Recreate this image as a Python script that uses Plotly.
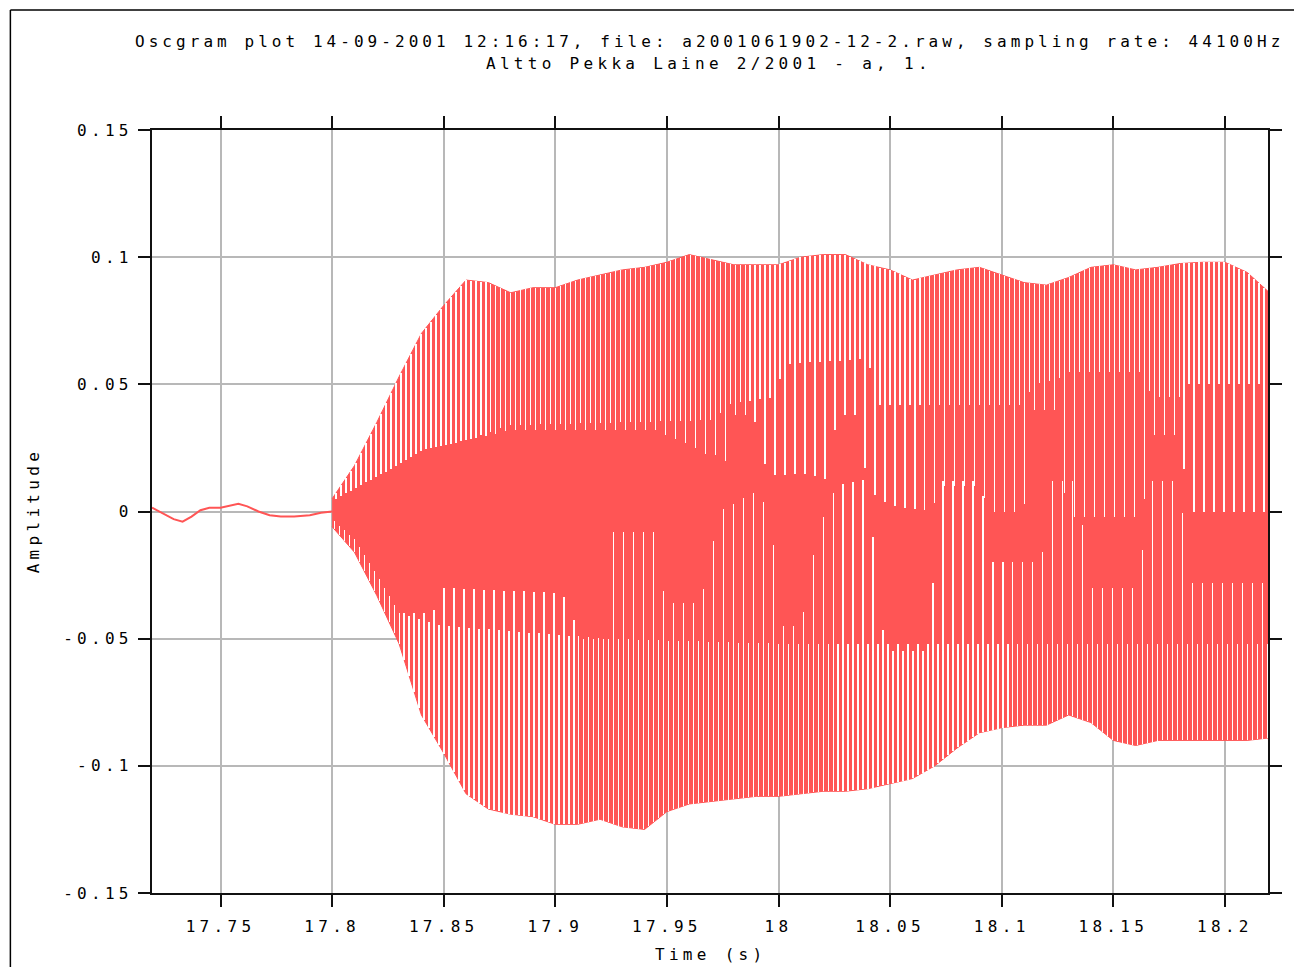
import numpy as np
import plotly.graph_objects as go

# ---------------- data ----------------
# low-level signal before the onset (time s, amplitude)
pre_t = [17.7193, 17.725, 17.729, 17.733, 17.737, 17.741, 17.745, 17.750, 17.755, 17.758,
         17.762, 17.767, 17.772, 17.777, 17.783, 17.790, 17.795, 17.800]
pre_a = [0.0015, -0.001, -0.003, -0.004, -0.002, 0.0005, 0.0015, 0.0015, 0.0025, 0.003,
         0.002, 0.0, -0.0015, -0.002, -0.002, -0.0015, -0.0005, 0.0]

# outer envelope of the voiced part
env_t = [17.80, 17.81, 17.82, 17.83, 17.84, 17.85, 17.86, 17.87, 17.88, 17.89,
         17.90, 17.91, 17.92, 17.93, 17.94, 17.95, 17.96, 17.97, 17.98, 17.99,
         18.00, 18.01, 18.02, 18.03, 18.04, 18.05, 18.06, 18.07, 18.08, 18.09,
         18.10, 18.11, 18.12, 18.13, 18.14, 18.15, 18.16, 18.17, 18.18, 18.19,
         18.20, 18.21, 18.22]
env_top = [0.005, 0.018, 0.035, 0.053, 0.070, 0.081, 0.091, 0.090, 0.086, 0.088,
           0.088, 0.091, 0.093, 0.095, 0.096, 0.098, 0.101, 0.099, 0.097, 0.097,
           0.097, 0.100, 0.101, 0.101, 0.097, 0.095, 0.091, 0.093, 0.095, 0.096,
           0.093, 0.090, 0.089, 0.092, 0.096, 0.097, 0.095, 0.096, 0.0975, 0.098,
           0.098, 0.094, 0.086]
env_bot = [-0.006, -0.016, -0.033, -0.052, -0.080, -0.095, -0.111, -0.117, -0.119, -0.120,
           -0.123, -0.123, -0.121, -0.124, -0.125, -0.118, -0.115, -0.114, -0.113, -0.112,
           -0.112, -0.111, -0.110, -0.110, -0.109, -0.107, -0.105, -0.100, -0.093, -0.087,
           -0.085, -0.084, -0.084, -0.080, -0.083, -0.090, -0.092, -0.090, -0.090, -0.090,
           -0.090, -0.090, -0.089]

# level reached by the white gaps between pulses (breakpoint time, level)
# upper gaps: long ones (every other pulse) and short ones
up_long_t = [17.800, 17.812, 17.825, 17.840, 17.860, 17.880, 17.945, 17.955, 17.963, 17.967,
             17.971, 17.976, 17.979, 17.989, 17.992, 17.996, 18.000, 18.010, 18.018, 18.023,
             18.026, 18.036, 18.039, 18.044, 18.053, 18.069, 18.072, 18.091, 18.094, 18.110,
             18.113, 18.125, 18.129, 18.163, 18.167, 18.180, 18.184, 18.220]
up_long_v = [0.004, 0.010, 0.016, 0.024, 0.028, 0.032, 0.032, 0.028, 0.025, 0.0227,
             0.0225, 0.019, 0.038, 0.038, 0.0225, 0.015, 0.014, 0.015, 0.0137, 0.012,
             0.038, 0.038, 0.015, 0.005, 0.002, 0.0, 0.010, 0.010, 0.0, 0.0,
             0.040, 0.040, -0.002, -0.002, 0.030, 0.030, 0.0, 0.0]
up_short_t = [17.800, 17.812, 17.825, 17.840, 17.860, 17.880, 17.972, 17.976, 17.998, 18.003,
              18.040, 18.045, 18.110, 18.114, 18.125, 18.130, 18.163, 18.167, 18.180, 18.184,
              18.220]
up_short_v = [0.004, 0.010, 0.016, 0.024, 0.028, 0.034, 0.036, 0.042, 0.045, 0.058,
              0.060, 0.042, 0.042, 0.050, 0.052, 0.055, 0.055, 0.045, 0.045, 0.050,
              0.050]
# lower gaps: long ones and short ones
lo_long_t = [17.800, 17.810, 17.820, 17.830, 17.845, 17.850, 17.900, 17.905, 17.911, 17.922,
             17.925, 17.946, 17.949, 17.962, 17.966, 17.971, 17.975, 17.984, 17.989, 17.993,
             17.998, 18.002, 18.010, 18.013, 18.017, 18.022, 18.026, 18.040, 18.044, 18.048,
             18.068, 18.071, 18.091, 18.094, 18.118, 18.121, 18.135, 18.138, 18.162, 18.165,
             18.180, 18.183, 18.220]
lo_long_v = [-0.003, -0.011, -0.025, -0.040, -0.040, -0.030, -0.032, -0.034, -0.050, -0.050,
             -0.008, -0.008, -0.036, -0.036, -0.032, -0.011, 0.001, 0.005, 0.0074, 0.0045,
             -0.0145, -0.045, -0.045, -0.030, -0.010, 0.003, 0.010, 0.013, -0.026, -0.055,
             -0.055, 0.012, 0.012, -0.020, -0.020, 0.012, 0.012, -0.030, -0.030, 0.012,
             0.012, -0.028, -0.028]
lo_short_t = [17.800, 17.810, 17.820, 17.830, 17.850, 17.923, 18.000, 18.220]
lo_short_v = [-0.003, -0.011, -0.025, -0.040, -0.045, -0.050, -0.052, -0.052]

pitch_period = 0.00447   # spacing of the big pulses (s)
first_pulse = 17.8018    # time of the first long gap (s)
lower_shift = -0.0008    # lower gaps sit slightly before the upper ones (s)

x_tickvals = [17.75, 17.8, 17.85, 17.9, 17.95, 18.0, 18.05, 18.1, 18.15, 18.2]
x_ticktext = ["17.75", "17.8", "17.85", "17.9", "17.95", "18", "18.05", "18.1", "18.15", "18.2"]
y_tickvals = [-0.15, -0.1, -0.05, 0, 0.05, 0.1, 0.15]
y_ticktext = ["-0.15", "-0.1", "-0.05", "0", "0.05", "0.1", "0.15"]

title_1 = "Oscgram plot 14-09-2001 12:16:17, file: a2001061902-12-2.raw, sampling rate: 44100Hz"
title_2 = "Altto Pekka Laine 2/2001 - a, 1."
x_title = "Time (s)"
y_title = "Amplitude"

# ---------------- styling ----------------
RED = "#ff5555"
FONT = "DejaVu Sans Mono"


def sp(s, ls=4.3):
    return f"<span style='letter-spacing:{ls}px'>{s}</span>"


t_end = env_t[-1]
fig = go.Figure()

# voiced part: red region between the outer envelopes
fig.add_trace(go.Scatter(
    x=env_t + env_t[::-1], y=env_top + env_bot[::-1],
    fill="toself", fillcolor=RED, mode="lines",
    line=dict(color=RED, width=1), hoverinfo="skip", showlegend=False))

# pre-onset signal
fig.add_trace(go.Scatter(x=pre_t, y=pre_a, mode="lines",
                         line=dict(color=RED, width=2), showlegend=False))

# white gaps between the pulses
half = pitch_period / 2
gx, gy = [], []
gt = np.arange(first_pulse, t_end, half)
for k, t in enumerate(gt):
    top = float(np.interp(t, env_t, env_top))
    if k % 2 == 0:
        fl = float(np.interp(t, up_long_t, up_long_v))
    else:
        fl = float(np.interp(t, up_short_t, up_short_v))
    if fl < top:
        gx += [t, t, None]
        gy += [fl, top, None]
for k, t0 in enumerate(gt):
    t = t0 + lower_shift
    if t >= t_end or t < env_t[0]:
        continue
    bot = float(np.interp(t, env_t, env_bot))
    if k % 2 == 0:
        ce = float(np.interp(t, lo_long_t, lo_long_v))
    else:
        ce = float(np.interp(t, lo_short_t, lo_short_v))
    if ce > bot:
        gx += [t, t, None]
        gy += [bot, ce, None]
fig.add_trace(go.Scatter(x=gx, y=gy, mode="lines",
                         line=dict(color="white", width=1.4),
                         hoverinfo="skip", showlegend=False))

axis_common = dict(
    showline=True, linecolor="#111111", linewidth=2, mirror="allticks",
    ticks="outside", ticklen=12, tickwidth=2, tickcolor="#111111",
    showgrid=True, gridcolor="#b8b8b8", gridwidth=1.5, zeroline=False,
    tickfont=dict(family=FONT, size=16, color="black"),
)

fig.update_layout(
    width=1294, height=967,
    margin=dict(l=152, r=23, t=130, b=74),
    paper_bgcolor="white", plot_bgcolor="white",
    xaxis=dict(range=[17.7193, 18.2193], tickmode="array", tickvals=x_tickvals,
               ticktext=[sp(s) for s in x_ticktext], ticklabelstandoff=6, **axis_common),
    yaxis=dict(range=[-0.15, 0.15], tickmode="array", tickvals=y_tickvals,
               ticktext=[sp(s) for s in y_ticktext], ticklabelstandoff=2, **axis_common),
    showlegend=False,
)

W, H = 1271 - 152, 893 - 130


def px(x):
    return (x - 152) / W


def py(y):
    return (893 - y) / H


ann_font = dict(family=FONT, size=16, color="black")
fig.add_annotation(x=px(711), y=py(42), xref="paper", yref="paper", text=sp(title_1, 4.05),
                   showarrow=False, font=ann_font, xanchor="center", yanchor="middle")
fig.add_annotation(x=px(710), y=py(64), xref="paper", yref="paper", text=sp(title_2),
                   showarrow=False, font=ann_font, xanchor="center", yanchor="middle")
fig.add_annotation(x=px(712), y=py(955), xref="paper", yref="paper", text=sp(x_title),
                   showarrow=False, font=ann_font, xanchor="center", yanchor="middle")
fig.add_annotation(x=px(33), y=py(511), xref="paper", yref="paper", text=sp(y_title),
                   textangle=-90, showarrow=False, font=ann_font,
                   xanchor="center", yanchor="middle")

# outer frame of the picture
fig.add_shape(type="line", xref="paper", yref="paper", x0=px(10), x1=px(10),
              y0=py(10), y1=py(975), line=dict(color="black", width=1.5))
fig.add_shape(type="line", xref="paper", yref="paper", x0=px(10), x1=px(1300),
              y0=py(10), y1=py(10), line=dict(color="black", width=1.5))

post = (
    "document.body.style.margin='0px';"
    "var tr=document.querySelectorAll('.scatterlayer .trace');"
    "if(tr.length>2){tr[2].querySelectorAll('path').forEach(function(p){"
    "p.style.shapeRendering='crispEdges';});}"
)
fig.write_html("out.html", post_script=post, config={"displayModeBar": False})
